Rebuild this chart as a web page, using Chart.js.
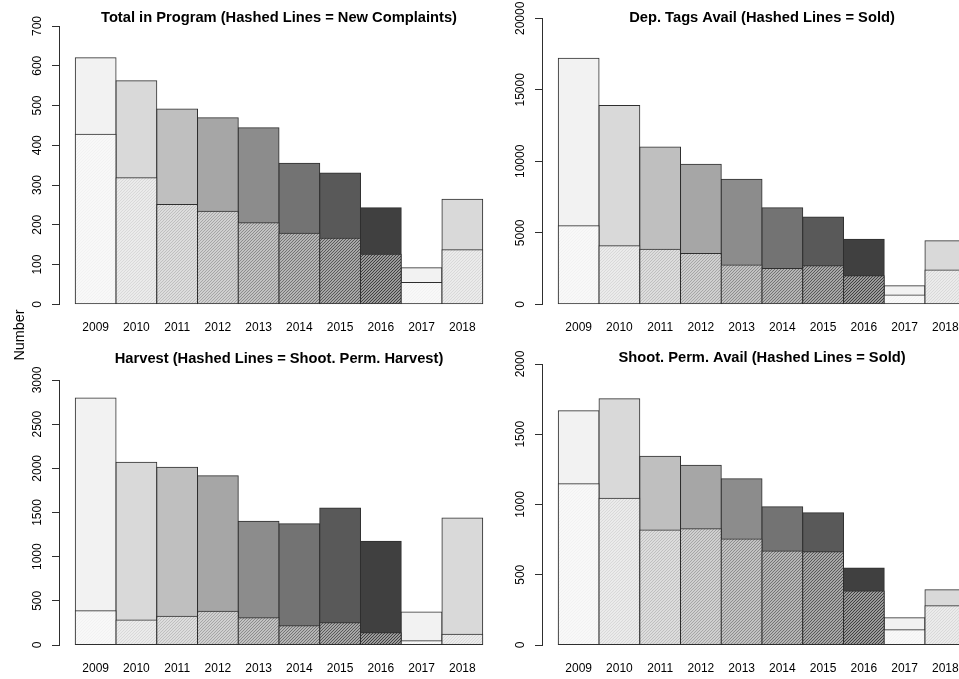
<!DOCTYPE html>
<html>
<head>
<meta charset="utf-8">
<script src="https://cdn.jsdelivr.net/npm/chart.js@4.4.0/dist/chart.umd.min.js"></script>
<style>
html, body { margin: 0; padding: 0; background: #fff; }
#wrap { position: relative; width: 959px; height: 679px; overflow: hidden; background: #fff; }
#wrap canvas { position: absolute; }
#ylab { position: absolute; left: -31.5px; top: 327px; width: 100px; height: 16px; line-height: 16px;
  text-align: center; transform: rotate(-90deg); transform-origin: 50% 50%;
  font-family: 'Liberation Sans', Arial, Helvetica, sans-serif; font-size: 14.4px; color: #000; white-space: nowrap; }
</style>
</head>
<body>
<div id="wrap">
  <canvas id="c1" width="499" height="340" style="left:0px;top:0px;width:499px;height:340px"></canvas>
  <canvas id="c2" width="499" height="340" style="left:483px;top:0px;width:499px;height:340px"></canvas>
  <canvas id="c3" width="499" height="339" style="left:0px;top:340px;width:499px;height:339px"></canvas>
  <canvas id="c4" width="499" height="339" style="left:483px;top:340px;width:499px;height:339px"></canvas>
  <div id="ylab">Number</div>
</div>
<script>
// ---------------- data ----------------
const years = ['2009', '2010', '2011', '2012', '2013', '2014', '2015', '2016', '2017', '2018'];

const totalInProgram = [620, 562, 491, 469, 444, 355, 330, 243, 92, 264];
const newComplaints  = [428, 318, 251, 234, 205, 179, 166, 126, 55, 137];

const depTagsAvail = [17200, 13900, 11000, 9800, 8750, 6750, 6100, 4550, 1300, 4450];
const depTagsSold  = [5500, 4100, 3850, 3550, 2750, 2500, 2700, 2000, 650, 2400];

const harvest          = [2795, 2068, 2012, 1917, 1400, 1373, 1551, 1174, 374, 1438];
const shootPermHarvest = [388, 283, 325, 381, 309, 219, 253, 140, 49, 121];

const shootPermAvail = [1668, 1753, 1343, 1279, 1184, 984, 942, 548, 194, 394];
const shootPermSold  = [1148, 1044, 818, 828, 754, 669, 664, 384, 109, 280];

const ticksTotal   = [0, 100, 200, 300, 400, 500, 600, 700];
const ticksTags    = [0, 5000, 10000, 15000, 20000];
const ticksHarvest = [0, 500, 1000, 1500, 2000, 2500, 3000];
const ticksPermits = [0, 500, 1000, 1500, 2000];

const titles = [
  'Total in Program (Hashed Lines = New Complaints)',
  'Dep. Tags Avail (Hashed Lines = Sold)',
  'Harvest (Hashed Lines = Shoot. Perm. Harvest)',
  'Shoot. Perm. Avail (Hashed Lines = Sold)'
];

// ---------------- style ----------------
const barGrays = ['#f2f2f2', '#d9d9d9', '#bfbfbf', '#a6a6a6', '#8c8c8c', '#737373', '#595959', '#404040', '#f2f2f2', '#d9d9d9'];
const FAMILY = "'Liberation Sans', Arial, Helvetica, sans-serif";
const EDGE = '#2e2e2e';

function hatch(color) {
  const s = 3;
  const c = document.createElement('canvas');
  c.width = s; c.height = s;
  const g = c.getContext('2d');
  g.fillStyle = '#ffffff';
  g.fillRect(0, 0, s, s);
  g.strokeStyle = color;
  g.lineWidth = 1.5;
  g.beginPath();
  g.moveTo(0, s); g.lineTo(s, 0);
  g.moveTo(-1, 1); g.lineTo(1, -1);
  g.moveTo(s - 1, s + 1); g.lineTo(s + 1, s - 1);
  g.stroke();
  return g.createPattern(c, 'repeat');
}

const measureCtx = document.createElement('canvas').getContext('2d');
measureCtx.font = '12px ' + FAMILY;
function widest(labels) {
  return Math.max(...labels.map(l => measureCtx.measureText(String(l)).width));
}

const panels = [
  { id: 'c1', title: titles[0], full: totalInProgram, part: newComplaints, yTicks: ticksTotal,
    h: 340, titleY: 18, top: 26, bottom: 304.3 },
  { id: 'c2', title: titles[1], full: depTagsAvail, part: depTagsSold, yTicks: ticksTags,
    h: 340, titleY: 18.3, top: 18.3, bottom: 304.3 },
  { id: 'c3', title: titles[2], full: harvest, part: shootPermHarvest, yTicks: ticksHarvest,
    h: 339, titleY: 19, top: 40, bottom: 305 },
  { id: 'c4', title: titles[3], full: shootPermAvail, part: shootPermSold, yTicks: ticksPermits,
    h: 339, titleY: 18, top: 24, bottom: 305 }
];

const TITLE_SIZE = 14.7, TITLE_LH = 1.2;

panels.forEach(p => {
  const lh = TITLE_SIZE * TITLE_LH;
  const padTop = p.titleY - lh / 2;
  const padBottom = p.top - padTop - lh;
  const yPad = 13.9 - widest(p.yTicks) / 2;
  const xHeight = p.h - p.bottom;

  new Chart(document.getElementById(p.id), {
    type: 'bar',
    data: {
      datasets: [
        {
          data: p.part.map((v, i) => ({ x: i + 0.5, y: v })),
          backgroundColor: barGrays.map(hatch),
          borderColor: EDGE, borderWidth: 1, borderSkipped: false,
          inflateAmount: 0.5, grouped: false, order: 0,
          barPercentage: 1, categoryPercentage: 1
        },
        {
          data: p.full.map((v, i) => ({ x: i + 0.5, y: v })),
          backgroundColor: barGrays,
          borderColor: EDGE, borderWidth: 1, borderSkipped: false,
          inflateAmount: 0.5, grouped: false, order: 1,
          barPercentage: 1, categoryPercentage: 1
        }
      ]
    },
    options: {
      responsive: false, animation: false, devicePixelRatio: 1,
      layout: { padding: 0 },
      events: [],
      plugins: {
        legend: { display: false },
        tooltip: { enabled: false },
        title: {
          display: true, text: p.title, fullSize: false, align: 'center', color: '#000',
          font: { family: FAMILY, size: TITLE_SIZE, weight: 'bold', lineHeight: TITLE_LH },
          padding: { top: padTop, bottom: padBottom }
        }
      },
      scales: {
        x: {
          type: 'linear', min: -0.4, max: 10.4, offset: false, bounds: 'ticks',
          grid: { display: false, drawTicks: false, offset: false },
          border: { display: false },
          ticks: {
            autoSkip: false, maxRotation: 0, minRotation: 0, padding: 16, color: '#000',
            font: { family: FAMILY, size: 12 },
            callback: (v, i) => years[i]
          },
          afterBuildTicks: ax => { ax.ticks = years.map((_, i) => ({ value: i + 0.5 })); },
          afterFit: ax => { ax.height = xHeight; }
        },
        y: {
          type: 'linear', min: 0, max: p.yTicks[p.yTicks.length - 1],
          grid: { display: true, drawOnChartArea: false, drawTicks: true, tickLength: 7, color: EDGE, lineWidth: 1 },
          border: { display: true, color: EDGE, width: 1 },
          ticks: {
            minRotation: 90, maxRotation: 90, crossAlign: 'center', padding: yPad, color: '#000',
            font: { family: FAMILY, size: 12 },
            callback: v => String(v)
          },
          afterBuildTicks: ax => { ax.ticks = p.yTicks.map(v => ({ value: v })); },
          afterFit: ax => { ax.width = 59; }
        }
      }
    }
  });
});
</script>
</body>
</html>
